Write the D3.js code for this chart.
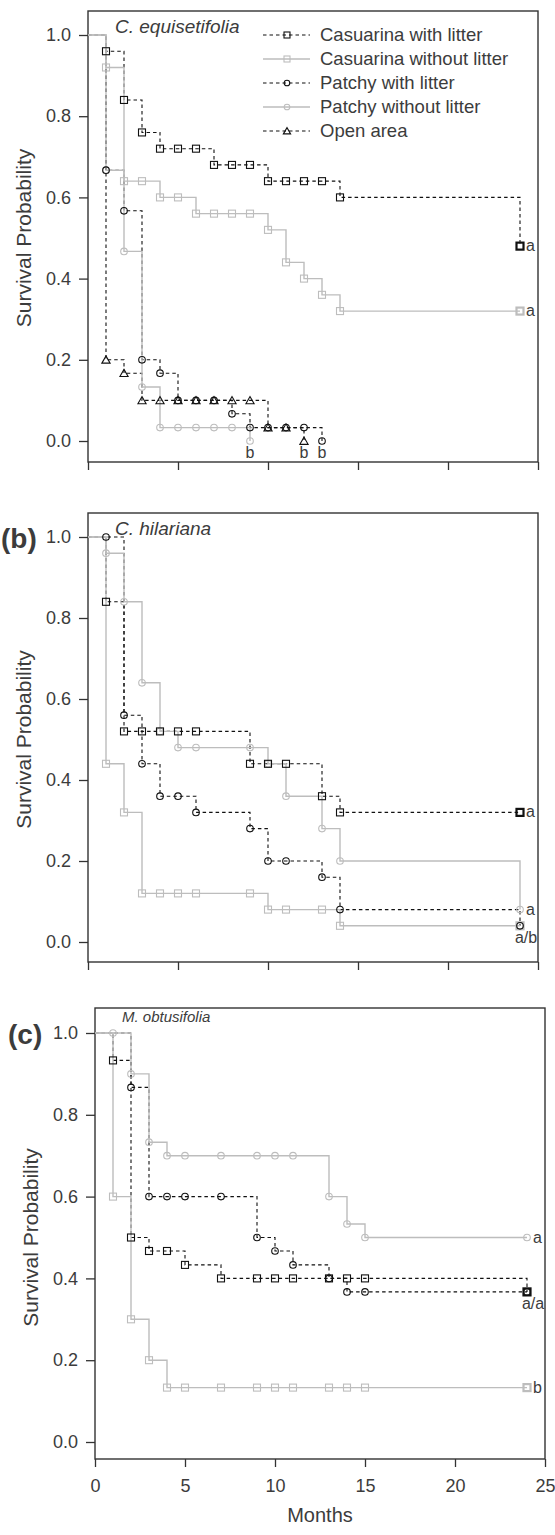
<!DOCTYPE html>
<html><head><meta charset="utf-8">
<script src="https://cdn.jsdelivr.net/npm/d3@7"></script>
<style>
body{margin:0;background:#fff}
svg{display:block}
text{font-family:"Liberation Sans",Arial,sans-serif;fill:#3c3c3c}
</style>
</head><body><div id="chart"></div>
<script>
// ---------- data ----------
const seriesNames = ["Casuarina with litter","Casuarina without litter","Patchy with litter","Patchy without litter","Open area"];
const speciesNames = ["C. equisetifolia","C. hilariana","M. obtusifolia"];
const panelTags = ["","(b)","(c)"];
const yTicks = [0,0.2,0.4,0.6,0.8,1.0];
const xTicks = [0,5,10,15,20,25];

// (a) C. equisetifolia
const aCasLitT = [1,2,3,4,5,6,7,8,9,10,11,12,13,14,24];
const aCasLitS = [0.96,0.84,0.76,0.72,0.72,0.72,0.68,0.68,0.68,0.64,0.64,0.64,0.64,0.60,0.48];
const aCasNoT  = [1,2,3,4,5,6,7,8,9,10,11,12,13,14,24];
const aCasNoS  = [0.92,0.64,0.64,0.60,0.60,0.56,0.56,0.56,0.56,0.52,0.44,0.40,0.36,0.32,0.32];
const aPatLitT = [1,2,3,4,5,6,7,8,9,10,11,12,13];
const aPatLitS = [0.667,0.567,0.2,0.167,0.1,0.1,0.1,0.067,0.033,0.033,0.033,0.033,0];
const aPatNoT  = [1,2,3,4,5,6,7,8,9];
const aPatNoS  = [0.667,0.467,0.133,0.033,0.033,0.033,0.033,0.033,0];
const aOpenT   = [1,2,3,4,5,6,7,8,9,10,11,12];
const aOpenS   = [0.2,0.167,0.1,0.1,0.1,0.1,0.1,0.1,0.1,0.033,0.033,0];

// (b) C. hilariana
const bCasLitT = [1,2,3,4,5,6,9,10,11,13,14,24];
const bCasLitS = [0.84,0.52,0.52,0.52,0.52,0.52,0.44,0.44,0.44,0.36,0.32,0.32];
const bCasNoT  = [1,2,3,4,5,6,9,10,11,13,14,24];
const bCasNoS  = [0.44,0.32,0.12,0.12,0.12,0.12,0.12,0.08,0.08,0.08,0.04,0.04];
const bPatLitT = [1,2,3,4,5,6,9,10,11,13,14,24];
const bPatLitS = [1.0,0.56,0.44,0.36,0.36,0.32,0.28,0.2,0.2,0.16,0.08,0.04];
const bPatNoT  = [1,2,3,4,5,6,9,10,11,13,14,24];
const bPatNoS  = [0.96,0.84,0.64,0.52,0.48,0.48,0.48,0.44,0.36,0.28,0.2,0.08];

// (c) M. obtusifolia
const cCasLitT = [1,2,3,4,5,7,9,10,11,13,14,15,24];
const cCasLitS = [0.933,0.5,0.467,0.467,0.433,0.4,0.4,0.4,0.4,0.4,0.4,0.4,0.367];
const cCasNoT  = [1,2,3,4,5,7,9,10,11,13,14,15,24];
const cCasNoS  = [0.6,0.3,0.2,0.133,0.133,0.133,0.133,0.133,0.133,0.133,0.133,0.133,0.133];
const cPatLitT = [2,3,4,5,7,9,10,11,13,14,15,24];
const cPatLitS = [0.867,0.6,0.6,0.6,0.6,0.5,0.467,0.433,0.4,0.367,0.367,0.367];
const cPatNoT  = [1,2,3,4,5,7,9,10,11,13,14,15,24];
const cPatNoS  = [1.0,0.9,0.733,0.7,0.7,0.7,0.7,0.7,0.7,0.6,0.533,0.5,0.5];

// significance letters: [panel, text, month, survival, placement]
const letters = [
  [0,"a",24,0.48,"right"],[0,"a",24,0.32,"right"],
  [0,"b",9,0,"below"],[0,"b",12,0,"below"],[0,"b",13,0,"below"],
  [1,"a",24,0.32,"right"],[1,"a",24,0.08,"right"],[1,"a/b",24,0.04,"below"],
  [2,"a",24,0.5,"right"],[2,"a/a",24,0.367,"below"],[2,"b",24,0.133,"right"]
];

// ---------- styles ----------
const GRAY = "#bdbdbd", BLACK = "#111";
const styleOf = [
  {color:BLACK, dash:"3.5,3", shape:"square"},
  {color:GRAY,  dash:null,    shape:"square"},
  {color:BLACK, dash:"3.5,3", shape:"circle"},
  {color:GRAY,  dash:null,    shape:"circle"},
  {color:BLACK, dash:"3.5,3", shape:"triangle"}
];

const panels = [
  {box:{left:88,right:538,top:11,bottom:462,y1:35,y0:441}, series:[[aCasLitT,aCasLitS],[aCasNoT,aCasNoS],[aPatLitT,aPatLitS],[aPatNoT,aPatNoS],[aOpenT,aOpenS]]},
  {box:{left:88,right:538,top:513,bottom:962,y1:537,y0:942}, series:[[bCasLitT,bCasLitS],[bCasNoT,bCasNoS],[bPatLitT,bPatLitS],[bPatNoT,bPatNoS],null]},
  {box:{left:95,right:545,top:1008,bottom:1459,y1:1033,y0:1442}, series:[[cCasLitT,cCasLitS],[cCasNoT,cCasNoS],[cPatLitT,cPatLitS],[cPatNoT,cPatNoS],null]}
];

const svg = d3.select("#chart").append("svg").attr("width",555).attr("height",1535);

function drawMarker(g, shape, cx, cy, color, sw, size){
  const s = size||7;
  if(shape==="square"){
    g.append("rect").attr("x",cx-s/2).attr("y",cy-s/2).attr("width",s).attr("height",s)
      .attr("fill","none").attr("stroke",color).attr("stroke-width",sw);
  } else if(shape==="circle"){
    g.append("circle").attr("cx",cx).attr("cy",cy).attr("r",s/2-0.2)
      .attr("fill","none").attr("stroke",color).attr("stroke-width",sw);
  } else {
    const h = s*0.95;
    g.append("path").attr("d",`M${cx-s/2-0.6},${cy+h/2}L${cx},${cy-h/2-0.5}L${cx+s/2+0.6},${cy+h/2}Z`)
      .attr("fill","none").attr("stroke",color).attr("stroke-width",sw);
  }
}

panels.forEach((p,pi)=>{
  const b = p.box;
  const x = d3.scaleLinear().domain([0,25]).range([b.left,b.right]);
  const y = d3.scaleLinear().domain([0,1]).range([b.y0,b.y1]);
  const g = svg.append("g");

  g.append("rect").attr("x",b.left).attr("y",b.top).attr("width",b.right-b.left).attr("height",b.bottom-b.top)
    .attr("fill","none").attr("stroke","#333").attr("stroke-width",1.4);

  const ya = g.append("g").attr("transform",`translate(${b.left},0)`)
    .call(d3.axisLeft(y).tickValues(yTicks).tickFormat(d3.format(".1f")).tickSize(9).tickPadding(8));
  ya.select(".domain").remove();
  ya.selectAll("line").attr("stroke","#333").attr("stroke-width",1.3);
  ya.selectAll("text").attr("font-size",18).attr("fill","#3c3c3c").style("font-family",'"Liberation Sans",Arial,sans-serif');

  const xa = g.append("g").attr("transform",`translate(0,${b.bottom})`)
    .call(d3.axisBottom(x).tickValues(xTicks).tickSize(8).tickPadding(12)
      .tickFormat(pi===2 ? d3.format("d") : ()=>""));
  xa.select(".domain").remove();
  xa.selectAll("line").attr("stroke","#333").attr("stroke-width",1.3);
  xa.selectAll("text").attr("font-size",18).attr("fill","#3c3c3c").style("font-family",'"Liberation Sans",Arial,sans-serif');

  g.append("text").attr("transform",`translate(${b.left-57},${(b.y0+b.y1)/2}) rotate(-90)`)
    .attr("text-anchor","middle").attr("font-size",21).text("Survival Probability");

  g.append("text").attr("x",b.left+27).attr("y",b.top+(pi===2?14:22))
    .attr("font-size",pi===2?15:19).attr("font-style","italic").text(speciesNames[pi]);

  if(panelTags[pi]){
    g.append("text").attr("x",pi===2?8:1).attr("y",b.y1+11).attr("font-size",28).attr("font-weight","bold")
      .attr("fill","#111").text(panelTags[pi]);
  }

  const line = d3.line().x(d=>x(d[0])).y(d=>y(d[1])).curve(d3.curveStepAfter);
  const pts = p.series.map(s=> s ? [[0,1]].concat(s[0].map((t,i)=>[t,s[1][i]])) : null);

  [0,2,4,1,3].forEach(si=>{
    if(!pts[si]) return;
    const st = styleOf[si];
    g.append("path").datum(pts[si]).attr("d",line).attr("fill","none")
      .attr("stroke",st.color).attr("stroke-width",st.dash?1.1:1.4)
      .attr("stroke-dasharray",st.dash);
  });
  [1,3,0,2,4].forEach(si=>{
    if(!pts[si]) return;
    const st = styleOf[si];
    pts[si].slice(1).forEach(d=>{
      const heavy = d[0]===24 && st.shape==="square";
      drawMarker(g, st.shape, x(d[0]), y(d[1]), st.color, heavy?2.2:1.1, 7);
    });
  });

  letters.filter(l=>l[0]===pi).forEach(l=>{
    const t = g.append("text").attr("font-size",16).text(l[1]);
    if(l[4]==="right") t.attr("x",x(l[2])+6).attr("y",y(l[3])+5);
    else t.attr("x",x(l[2])+(l[1].length>1?6:0)).attr("y",y(l[3])+17).attr("text-anchor","middle");
  });

  if(pi===0){
    const lg = g.append("g");
    seriesNames.forEach((name,i)=>{
      const st = styleOf[i];
      const cy = 35 + i*24;
      lg.append("line").attr("x1",263).attr("x2",310).attr("y1",cy).attr("y2",cy)
        .attr("stroke",st.color).attr("stroke-width",st.dash?1.1:1.3).attr("stroke-dasharray",st.dash);
      drawMarker(lg, st.shape, 287, cy, st.color, 1.1, 6);
      lg.append("text").attr("x",320).attr("y",cy+6).attr("font-size",18.5).text(name);
    });
  }

  if(pi===2){
    g.append("text").attr("x",(b.left+b.right)/2).attr("y",1522).attr("text-anchor","middle")
      .attr("font-size",20).text("Months");
  }
});
</script>
</body></html>
